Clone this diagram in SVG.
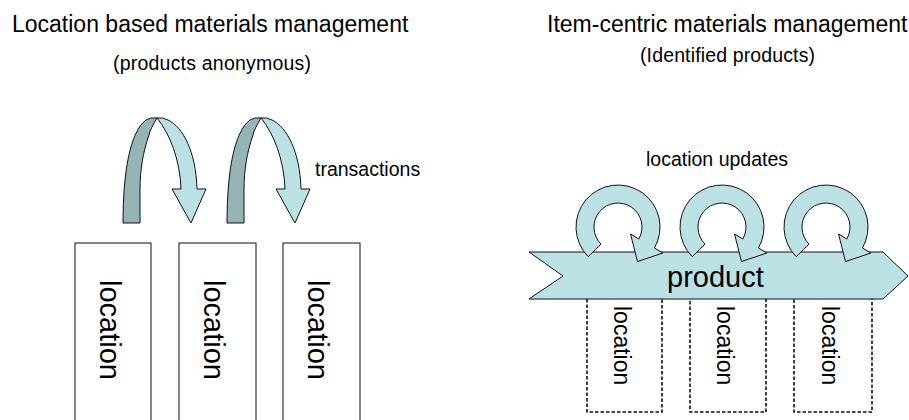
<svg xmlns="http://www.w3.org/2000/svg" width="909" height="420" viewBox="0 0 909 420">
<defs>
<style>
text{font-family:"Liberation Sans",Arial,Helvetica,sans-serif;fill:#000}
.t{font-size:23px}
.s{font-size:19.5px}
.loc{font-size:29px}
.locs{font-size:23px}
.box{fill:#fff;stroke:#222;stroke-width:1.1}
.dbox{fill:#fff;stroke:#111;stroke-width:1.6;stroke-dasharray:3.5 2}
.dark{fill:#97B4B4;stroke:#111;stroke-width:1}
.light{fill:#BCE1E4;stroke:#111;stroke-width:1}
</style>
<g id="uturn">
<path class="dark" d="M123,223 C123,172 130,132 146,120 Q150,117 157,118 C153,125 150,130 149,135 C143,152 140,170 140,190 L140,223 Z"/>
<path class="light" d="M157,118 Q163,117 168,120 C183,127 196,152 197,189 L206,189 L191,223 L172,189 L181,189 C180,160 170,134 157,118 Z"/>
</g>
<path id="ring" class="light" d="M588.3,256.7 A42,42 0 1 1 654.4,248 L663,253 L637.5,261.5 L630.5,234 L638.8,239 A24,24 0 1 0 601,244 Z"/>
</defs>

<g id="title-left"><text class="t" x="12" y="32">Location based materials management</text>
<text class="s" x="113" y="70" textLength="198">(products anonymous)</text></g>
<g id="title-right"><text class="t" x="547" y="32">Item-centric materials management</text>
<text class="s" x="640" y="62" textLength="175">(Identified products)</text></g>

<g id="left-locations">
<g id="loc-l1"><rect class="box" x="75" y="243" width="76" height="190"/><text class="loc" transform="translate(100,280) rotate(90)">location</text></g>
<g id="loc-l2"><rect class="box" x="179" y="243" width="77" height="190"/><text class="loc" transform="translate(204,280) rotate(90)">location</text></g>
<g id="loc-l3"><rect class="box" x="283" y="243" width="77" height="190"/><text class="loc" transform="translate(308,280) rotate(90)">location</text></g>
</g>

<g id="connectors">
<use href="#uturn"/>
<use href="#uturn" transform="translate(104,0)"/>
</g>
<g id="transactions-label"><text class="s" x="315" y="176">transactions</text></g>

<g id="right-locations">
<g id="loc-r1"><rect class="dbox" x="587" y="292" width="75" height="120"/><text class="locs" transform="translate(614,306) rotate(90)">location</text></g>
<g id="loc-r2"><rect class="dbox" x="690" y="292" width="76" height="120"/><text class="locs" transform="translate(717,306) rotate(90)">location</text></g>
<g id="loc-r3"><rect class="dbox" x="794" y="292" width="78" height="120"/><text class="locs" transform="translate(822,306) rotate(90)">location</text></g>
</g>

<g id="product">
<path class="light" d="M529,252 L883,252 L908,276 L883,299 L529,299 L563,276 Z"/>
<text x="667" y="287" style="font-size:29px">product</text>
</g>

<g id="location-updates">
<use href="#ring"/>
<use href="#ring" transform="translate(104,0)"/>
<use href="#ring" transform="translate(208,0)"/>
<text class="s" x="646" y="166">location updates</text>
</g>
</svg>
